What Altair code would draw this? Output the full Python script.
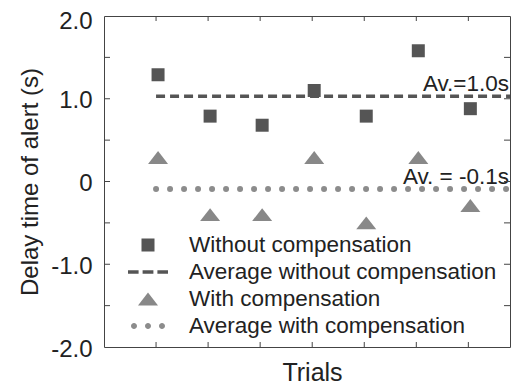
import altair as alt
import pandas as pd

# ---- data ----
trials = [1, 2, 3, 4, 5, 6, 7]
without_comp = [1.29, 0.79, 0.68, 1.10, 0.79, 1.58, 0.88]
with_comp = [0.29, -0.40, -0.40, 0.29, -0.50, 0.29, -0.29]
avg_without = 1.03
avg_with = -0.09
avg_labels = ["Av.=1.0s", "Av. = -0.1s"]
series = ["Without compensation", "Average without compensation",
          "With compensation", "Average with compensation"]
y_label_values = [-2, -1, 0, 1, 2]
y_minor_ticks = [-1.5, -1.0, -0.5, 0, 0.5, 1.0, 1.5]
x_domain = [0, 7.8]
line_x = [1, 7.8]

# ---- styling ----
W, H = 406, 331
FONT = "Liberation Sans"
TXT = "#222222"
FRAME = "#444444"
shapes = [
    "M-0.325,-0.325H0.325V0.325H-0.325Z",
    "M-1,-0.09H-0.47V0.09H-1Z M-0.27,-0.09H0.27V0.09H-0.27Z M0.47,-0.09H1V0.09H0.47Z",
    "M0,-0.32L0.5,0.32L-0.5,0.32Z",
    "M-0.85,0A0.15,0.15 0 1,0 -0.55,0A0.15,0.15 0 1,0 -0.85,0Z "
    "M-0.15,0A0.15,0.15 0 1,0 0.15,0A0.15,0.15 0 1,0 -0.15,0Z "
    "M0.55,0A0.15,0.15 0 1,0 0.85,0A0.15,0.15 0 1,0 0.55,0Z",
]
fills = ["#555555", "#555555", "#888888", "#8c8c8c"]

pts = pd.DataFrame({
    "trial": trials + trials,
    "value": without_comp + with_comp,
    "series": [series[0]] * len(trials) + [series[2]] * len(trials),
})
avg_df_wo = pd.DataFrame({"trial": line_x, "value": [avg_without] * 2})
avg_df_w = pd.DataFrame({"trial": line_x, "value": [avg_with] * 2})
ann = pd.DataFrame({"trial": [line_x[1]] * 2, "value": [avg_without, avg_with], "text": avg_labels})
yt = pd.DataFrame({"value": y_minor_ticks})
xt = pd.DataFrame({"trial": trials})

xscale = alt.Scale(domain=x_domain, nice=False, zero=False)
yscale = alt.Scale(domain=[-2, 2], nice=False, zero=False)

x_axis = alt.Axis(title="Trials", labels=False, ticks=False, domain=False, grid=False,
                  titleFontSize=25, titlePadding=13, titleFont=FONT, titleX=208,
                  titleFontWeight="normal", titleColor=TXT)
y_axis = alt.Axis(values=y_label_values,
                  labelExpr="datum.value == 0 ? '0' : (datum.value < 0 ? '-' : '') + format(abs(datum.value), '.1f')",
                  ticks=False, domain=False, grid=False, labelFlush=False, labelOverlap=False,
                  labelFontSize=24, labelFont=FONT, labelColor=TXT, labelPadding=12,
                  labelOffset={"condition": {"test": "datum.value == 2", "value": 5}, "value": 2},
                  title="Delay time of alert (s)", titleFontSize=24, titleFont=FONT,
                  titleFontWeight="normal", titleColor=TXT, titlePadding=8)

legend = alt.Legend(title=None, orient="none", legendX=24, legendY=218, clipHeight=22,
                    rowPadding=4, labelFontSize=22.5, labelFont=FONT, labelColor=TXT,
                    labelLimit=0, symbolSize=1600, symbolStrokeWidth=0, labelOffset=21,
                    padding=0, symbolOpacity=1)


def X():
    return alt.X("trial:Q", scale=xscale, axis=x_axis, title="Trials")


def Y():
    return alt.Y("value:Q", scale=yscale, axis=y_axis, title="Delay time of alert (s)")


points = alt.Chart(pts).mark_point(filled=True, size=1600, strokeWidth=0, opacity=1,
                                   xOffset=2).encode(
    x=X(), y=Y(),
    shape=alt.Shape("series:N", scale=alt.Scale(domain=series, range=shapes), legend=legend),
    fill=alt.Fill("series:N", scale=alt.Scale(domain=series, range=fills), legend=legend),
)

dash_line = alt.Chart(avg_df_wo).mark_line(color="#555555", strokeWidth=3.5,
                                           strokeDash=[9, 5]).encode(x=X(), y=Y())
dot_line = alt.Chart(avg_df_w).mark_line(color="#8c8c8c", strokeWidth=6, strokeCap="round",
                                         strokeDash=[0, 14]).encode(x=X(), y=Y())
texts = alt.Chart(ann).mark_text(align="right", baseline="alphabetic", dx=-1, dy=-5,
                                 fontSize=22.5, font=FONT, color=TXT).encode(
    x=X(), y=Y(), text="text:N")

tick_left = alt.Chart(yt).mark_rule(color=FRAME, strokeWidth=1).encode(
    y=Y(), x=alt.value(0), x2=alt.value(6))
tick_right = alt.Chart(yt).mark_rule(color=FRAME, strokeWidth=1).encode(
    y=Y(), x=alt.value(W - 6), x2=alt.value(W))
tick_top = alt.Chart(xt).mark_rule(color=FRAME, strokeWidth=1).encode(
    x=X(), y=alt.value(0), y2=alt.value(5))
tick_bottom = alt.Chart(xt).mark_rule(color=FRAME, strokeWidth=1).encode(
    x=X(), y=alt.value(H - 5), y2=alt.value(H))

chart = alt.layer(
    dash_line, dot_line, points, texts, tick_left, tick_right, tick_top, tick_bottom
).properties(
    width=W, height=H, autosize="none",
    padding={"left": 96, "top": 8, "right": 3, "bottom": 38},
    background="white",
).configure_view(stroke=FRAME, strokeWidth=1)

chart.save("out.html", embed_options={"renderer": "svg", "actions": False})
